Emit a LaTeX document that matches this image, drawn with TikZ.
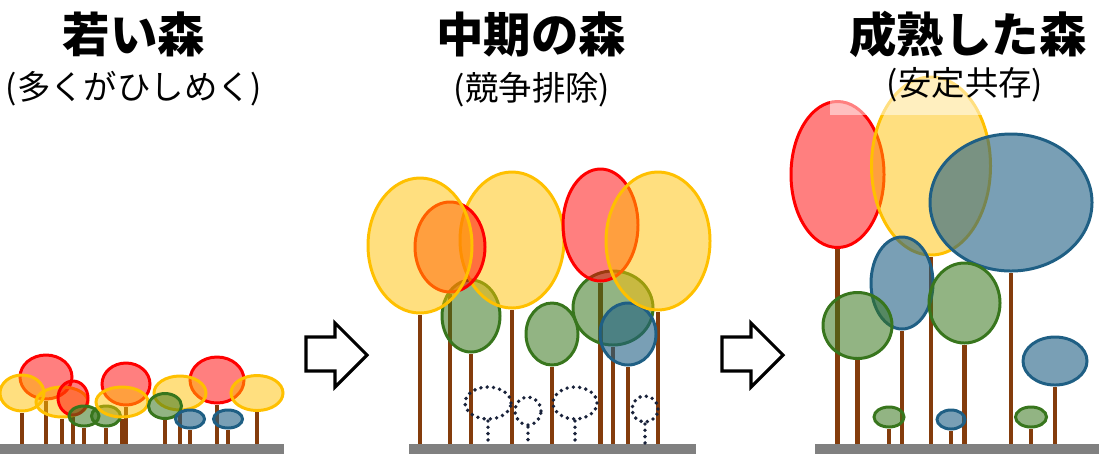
\documentclass[tikz,border=0pt]{standalone}
\usepackage{fontspec}
\newfontfamily\jpfont{Noto Sans CJK JP}
\usepackage{tikz}
\usetikzlibrary{shapes.geometric, backgrounds}

\definecolor{leafred}{RGB}{255,0,0}
\definecolor{leafyellow}{RGB}{255,192,0}
\definecolor{leafgreen}{RGB}{56,118,29}
\definecolor{leafblue}{RGB}{31,95,132}
\definecolor{bark}{RGB}{132,60,12}
\definecolor{soil}{RGB}{128,128,128}
\definecolor{seedling}{RGB}{25,34,58}

\begin{document}
\begin{tikzpicture}[
crown/.style={ellipse, inner sep=0pt, line width=1.7pt, fill opacity=0.5},
wh/.style 2 args={minimum width=#1cm, minimum height=#2cm},
redtree/.style={crown, draw=leafred, fill=leafred},
yellowtree/.style={crown, draw=leafyellow, fill=leafyellow},
greentree/.style={crown, draw=leafgreen, fill=leafgreen, fill opacity=0.55},
bluetree/.style={crown, draw=leafblue, fill=leafblue, fill opacity=0.6},
ghost/.style={ellipse, inner sep=0pt, draw=seedling, line width=2.2pt, dash pattern=on 0pt off 3.6pt, line cap=round},
ghoststem/.style={draw=seedling, line width=2.2pt, dash pattern=on 0pt off 3.6pt, line cap=round},
trunk/.style={draw=bark, line width=2.4pt},
ground/.style={rectangle, fill=soil, inner sep=0pt, minimum height=0.2cm},
blockarrow/.style={draw=black, line width=1.8pt, fill=white, line join=miter},
title/.style={font=\jpfont\bfseries\fontsize{27}{30}\selectfont},
subtitle/.style={font=\jpfont\fontsize{19}{22}\selectfont}
]
\useasboundingbox (0,0) rectangle (21.98,-9.08);

% young forest
\node[redtree, wh={1.04}{0.88}] (l1) at (0.92,-7.54) {};
\node[yellowtree, wh={0.88}{0.72}] (l2) at (0.44,-7.86) {};
\node[yellowtree, wh={1.04}{0.60}] (l3) at (1.24,-8.04) {};
\node[redtree, wh={0.60}{0.68}] (l4) at (1.46,-7.96) {};
\node[greentree, wh={0.60}{0.40}] (l5) at (1.68,-8.32) {};
\node[greentree, wh={0.58}{0.40}] (l6) at (2.12,-8.32) {};
\node[redtree, wh={0.96}{0.84}] (l7) at (2.52,-7.68) {};
\node[yellowtree, wh={1.04}{0.60}] (l8) at (2.44,-8.04) {};
\node[redtree, wh={1.08}{0.92}] (l9) at (4.34,-7.60) {};
\node[yellowtree, wh={1.04}{0.68}] (l10) at (3.60,-7.86) {};
\node[yellowtree, wh={1.04}{0.70}] (l11) at (5.14,-7.86) {};
\node[greentree, wh={0.66}{0.50}] (l12) at (3.30,-8.12) {};
\node[bluetree, wh={0.58}{0.36}] (l13) at (3.80,-8.38) {};
\node[bluetree, wh={0.58}{0.36}] (l14) at (4.56,-8.38) {};

% middle forest
\node[greentree, wh={1.16}{1.44}] (m1) at (9.42,-6.32) {};
\node[greentree, wh={1.04}{1.24}] (m2) at (11.04,-6.68) {};
\node[yellowtree, wh={2.08}{2.72}] (m3) at (10.24,-4.80) {};
\node[redtree, wh={1.40}{1.80}] (m4) at (9.00,-4.94) {};
\node[yellowtree, wh={2.08}{2.70}] (m5) at (8.40,-4.91) {};
\node[greentree, wh={1.60}{1.48}] (m6) at (12.26,-6.16) {};
\node[bluetree, wh={1.12}{1.24}] (m7) at (12.56,-6.68) {};
\node[redtree, wh={1.50}{2.24}] (m8) at (12.01,-4.50) {};
\node[yellowtree, wh={2.08}{2.76}] (m9) at (13.16,-4.82) {};

\node[ghost, wh={0.92}{0.64}] (d1) at (9.76,-8.06) {};
\node[ghost, wh={0.52}{0.56}] (d2) at (10.56,-8.22) {};
\node[ghost, wh={0.88}{0.64}] (d3) at (11.50,-8.06) {};
\node[ghost, wh={0.52}{0.52}] (d4) at (12.90,-8.18) {};

% mature forest
\node[redtree, wh={1.86}{2.92}] (r1) at (16.75,-3.49) {};
\node[yellowtree, wh={2.38}{3.56}] (r2) at (18.62,-3.32) {};
\node[bluetree, wh={3.24}{2.74}] (r3) at (20.22,-4.05) {};
\node[bluetree, wh={1.24}{1.84}] (r4) at (18.04,-5.66) {};
\node[greentree, wh={1.38}{1.32}] (r5) at (17.15,-6.51) {};
\node[greentree, wh={1.42}{1.60}] (r6) at (19.29,-6.06) {};
\node[bluetree, wh={1.28}{0.96}] (r7) at (21.10,-7.22) {};
\node[greentree, wh={0.60}{0.40}] (r8) at (17.78,-8.34) {};
\node[bluetree, wh={0.56}{0.38}] (r9) at (19.02,-8.39) {};
\node[greentree, wh={0.62}{0.40}] (r10) at (20.62,-8.34) {};

\node[ground, minimum width=5.68cm] (g1) at (2.84,-8.98) {};
\node[ground, minimum width=5.74cm] (g2) at (11.05,-8.98) {};
\node[ground, minimum width=5.68cm] (g3) at (19.14,-8.98) {};

% trunks sit behind the crowns
\begin{scope}[on background layer]
\draw[trunk] (l1.south) -- (l1.south |- g1.north);
\draw[trunk] (l2.south) -- (l2.south |- g1.north);
\draw[trunk] (l3.south) -- (l3.south |- g1.north);
\draw[trunk] (l4.south) -- (l4.south |- g1.north);
\draw[trunk] (l5.south) -- (l5.south |- g1.north);
\draw[trunk] (l6.south) -- (l6.south |- g1.north);
\draw[trunk] (l7.south) -- (l7.south |- g1.north);
\draw[trunk] (l8.south) -- (l8.south |- g1.north);
\draw[trunk] (l9.south) -- (l9.south |- g1.north);
\draw[trunk] (l10.south) -- (l10.south |- g1.north);
\draw[trunk] (l11.south) -- (l11.south |- g1.north);
\draw[trunk] (l12.south) -- (l12.south |- g1.north);
\draw[trunk] (l13.south) -- (l13.south |- g1.north);
\draw[trunk] (l14.south) -- (l14.south |- g1.north);

\draw[trunk] (m1.south) -- (m1.south |- g2.north);
\draw[trunk] (m2.south) -- (m2.south |- g2.north);
\draw[trunk] (m3.south) -- (m3.south |- g2.north);
\draw[trunk] (m4.south) -- (m4.south |- g2.north);
\draw[trunk] (m5.south) -- (m5.south |- g2.north);
\draw[trunk] (m6.south) -- (m6.south |- g2.north);
\draw[trunk] (m7.south) -- (m7.south |- g2.north);
\draw[trunk] (m8.south) -- (m8.south |- g2.north);
\draw[trunk] (m9.south) -- (m9.south |- g2.north);

\draw[trunk] (r1.south) -- (r1.south |- g3.north);
\draw[trunk] (r2.south) -- (r2.south |- g3.north);
\draw[trunk] (r3.south) -- (r3.south |- g3.north);
\draw[trunk] (r4.south) -- (r4.south |- g3.north);
\draw[trunk] (r5.south) -- (r5.south |- g3.north);
\draw[trunk] (r6.south) -- (r6.south |- g3.north);
\draw[trunk] (r7.south) -- (r7.south |- g3.north);
\draw[trunk] (r8.south) -- (r8.south |- g3.north);
\draw[trunk] (r9.south) -- (r9.south |- g3.north);
\draw[trunk] (r10.south) -- (r10.south |- g3.north);
\end{scope}

\draw[ghoststem] (d1.south) -- (d1.south |- g2.north);
\draw[ghoststem] (d2.south) -- (d2.south |- g2.north);
\draw[ghoststem] (d3.south) -- (d3.south |- g2.north);
\draw[ghoststem] (d4.south) -- (d4.south |- g2.north);

% arrows between the stages
\draw[blockarrow] (6.12,-6.74) -- (6.70,-6.74) -- (6.70,-6.46) -- (7.34,-7.10) -- (6.70,-7.74) -- (6.70,-7.42) -- (6.12,-7.42) -- cycle;
\draw[blockarrow, xshift=8.32cm] (6.12,-6.74) -- (6.70,-6.74) -- (6.70,-6.46) -- (7.34,-7.10) -- (6.70,-7.74) -- (6.70,-7.42) -- (6.12,-7.42) -- cycle;

\node[title, anchor=base] (t1) at (2.68,-1.04) {若い森};
\node[title, anchor=base] (t2) at (10.62,-1.04) {中期の森};
\node[title, anchor=base] (t3) at (19.36,-1.04) {成熟した森};
\node[subtitle, anchor=base] (s1) at (2.68,-1.98) {(多くがひしめく)};
\node[subtitle, anchor=base] (s2) at (10.64,-2.00) {(競争排除)};
\node[subtitle, anchor=base, fill=white, fill opacity=0.5, text opacity=1, inner sep=0pt, minimum width=5.4cm, text height=0.7cm, text depth=0.4cm] (s3) at (19.30,-1.90) {(安定共存)};

\end{tikzpicture}
\end{document}
